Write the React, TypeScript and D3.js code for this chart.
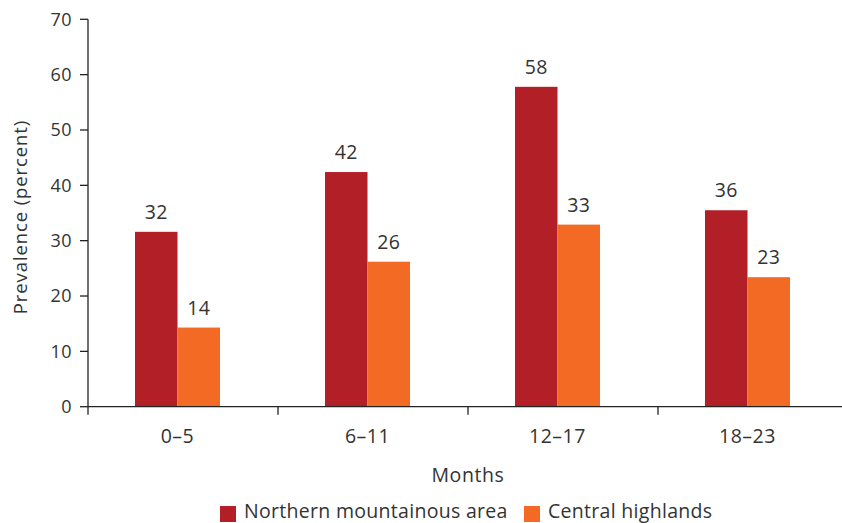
import React from "react";
import * as d3 from "d3";

const categories = ["0–5", "6–11", "12–17", "18–23"];
const northern = [31.6, 42.4, 57.8, 35.5];
const central = [14.3, 26.2, 32.9, 23.4];
const northernLabels = ["32", "42", "58", "36"];
const centralLabels = ["14", "26", "33", "23"];
const seriesNames = ["Northern mountainous area", "Central highlands"];
const yTicks = [0, 10, 20, 30, 40, 50, 60, 70];

const W = 842;
const H = 523;
const RED = "#B31F27";
const ORANGE = "#F26A24";
const TEXT = "#333333";
const FONT = "'Open Sans', 'Noto Sans', sans-serif";

export default function App() {
  const x0 = 88;
  const x1 = 848;
  const yTop = 19.3;
  const yBot = 406.7;

  const y = d3.scaleLinear().domain([0, 70]).range([yBot, yTop]);
  const xAxis = d3.scaleBand<string>().domain(categories).range([x0, x1]).padding(0);
  // bar groups sit slightly left of band centers in the reference
  const xBars = d3.scaleBand<string>().domain(categories).range([x0 - 5.5, x1 - 5.5]).padding(0);
  const barW = 42.5;
  const inner = d3.scaleBand<number>().domain([0, 1]).range([-barW, barW]);

  const series = [
    { values: northern, labels: northernLabels, color: RED },
    { values: central, labels: centralLabels, color: ORANGE },
  ];

  return (
    <svg width={W} height={H} style={{ position: "absolute", left: 0, top: 0 }}>
      <rect width={W} height={H} fill="#fff" />
      {/* bars */}
      {series.map((s, si) =>
        categories.map((c, i) => {
          const cx = (xBars(c) as number) + xBars.bandwidth() / 2;
          const bx = cx + (inner(si) as number);
          return (
            <g key={`${si}-${i}`}>
              <rect
                x={bx}
                y={y(s.values[i])}
                width={inner.bandwidth()}
                height={yBot - y(s.values[i])}
                fill={s.color}
              />
              <text
                x={bx + inner.bandwidth() / 2}
                y={y(s.values[i]) - 13}
                textAnchor="middle"
                fontFamily={FONT}
                fontSize={19.5}
                letterSpacing={0.4}
                fill={TEXT}
              >
                {s.labels[i]}
              </text>
            </g>
          );
        })
      )}
      {/* y axis */}
      <line x1={x0} x2={x0} y1={yTop} y2={yBot} stroke="#222" strokeWidth={1.3} />
      {yTicks.map((t) => (
        <g key={t}>
          <line x1={x0 - 8} x2={x0} y1={y(t)} y2={y(t)} stroke="#222" strokeWidth={1.3} />
          <text
            x={x0 - 16}
            y={y(t)}
            dy="0.36em"
            textAnchor="end"
            fontFamily={FONT}
            fontSize={18}
            letterSpacing={0.4}
            fill={TEXT}
          >
            {t}
          </text>
        </g>
      ))}
      {/* x axis */}
      <line x1={x0} x2={x1} y1={yBot} y2={yBot} stroke="#222" strokeWidth={1.3} />
      {categories.map((c) => (
        <line
          key={c}
          x1={xAxis(c) as number}
          x2={xAxis(c) as number}
          y1={yBot}
          y2={yBot + 8}
          stroke="#222"
          strokeWidth={1.3}
        />
      ))}
      {categories.map((c) => (
        <text
          key={c}
          x={(xBars(c) as number) + xBars.bandwidth() / 2}
          y={443}
          textAnchor="middle"
          fontFamily={FONT}
          fontSize={19.5}
          letterSpacing={0.5}
          fill={TEXT}
        >
          {c}
        </text>
      ))}
      <text
        x={(x0 + x1) / 2}
        y={482}
        textAnchor="middle"
        fontFamily={FONT}
        fontSize={19.5}
        letterSpacing={0.6}
        fill={TEXT}
      >
        Months
      </text>
      <text
        transform={`translate(27, ${(yTop + yBot) / 2 + 4}) rotate(-90)`}
        textAnchor="middle"
        fontFamily={FONT}
        fontSize={18.5}
        letterSpacing={0.9}
        fill={TEXT}
      >
        Prevalence (percent)
      </text>
      {/* legend */}
      <rect x={220} y={506} width={16} height={16} fill={RED} />
      <text x={244} y={518} fontFamily={FONT} fontSize={19.5} letterSpacing={0.3} fill={TEXT}>
        {seriesNames[0]}
      </text>
      <rect x={524} y={506} width={16} height={16} fill={ORANGE} />
      <text x={548} y={518} fontFamily={FONT} fontSize={19.5} letterSpacing={0.3} fill={TEXT}>
        {seriesNames[1]}
      </text>
    </svg>
  );
}
